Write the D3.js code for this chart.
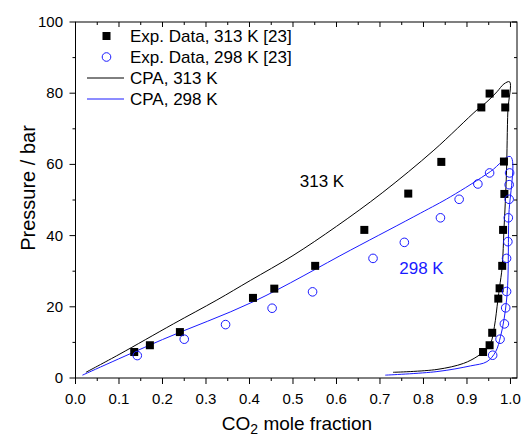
<!DOCTYPE html>
<html><head><meta charset="utf-8">
<script src="https://cdn.jsdelivr.net/npm/d3@7/dist/d3.min.js"></script>
<style>body{margin:0;background:#fff}svg{display:block}text{font-family:"Liberation Sans",Arial,sans-serif}</style>
</head><body><svg id="c" width="523" height="437"></svg>
<script>
// Experimental data, 313 K (filled squares)
const exp313x = [0.135,0.171,0.240,0.408,0.457,0.551,0.664,0.765,0.841,0.933,0.952,0.937,0.952,0.958,0.972,0.975,0.981,0.983,0.986,0.985,0.988,0.988];
const exp313y = [7.3,9.2,12.9,22.5,25.1,31.5,41.6,51.8,60.7,76.0,79.9,7.3,9.2,12.7,22.3,25.2,31.5,41.6,51.7,60.8,76.0,79.9];
// Experimental data, 298 K (open circles)
const exp298x = [0.142,0.250,0.345,0.452,0.545,0.684,0.756,0.839,0.882,0.925,0.952,0.959,0.976,0.986,0.989,0.991,0.991,0.994,0.995,0.997,0.997,0.998];
const exp298y = [6.3,10.9,15.0,19.6,24.2,33.6,38.1,45.0,50.2,54.5,57.6,6.4,10.9,15.2,19.7,24.3,33.6,38.3,45.0,50.2,54.3,57.6];
// CPA model, 313 K (bubble branch then dew branch)
const cpa313x = [0.024,0.100,0.225,0.325,0.402,0.500,0.600,0.705,0.824,0.923,0.946,0.969,0.985,0.998,0.994,0.991,0.988,0.985,0.981,0.975,0.971,0.963,0.954,0.938,0.923,0.892,0.831,0.730];
const cpa313y = [1.6,6.6,15.2,21.9,27.4,34.4,42.6,52.0,64.0,75.3,77.6,80.4,82.6,83.2,75.0,58.4,49.1,41.6,31.3,25.6,21.9,14.4,9.7,7.4,6.0,4.1,2.4,1.6];
// CPA model, 298 K
const cpa298x = [0.016,0.200,0.410,0.632,0.793,0.862,0.954,1.000,0.996,0.994,0.991,0.985,0.977,0.966,0.946,0.908,0.831,0.712];
const cpa298y = [0.8,10.8,21.5,35.9,46.3,50.9,58.0,62.2,45.0,27.5,21.9,16.3,11.6,7.4,4.6,3.4,1.8,0.8];
const xTicks = [0,0.1,0.2,0.3,0.4,0.5,0.6,0.7,0.8,0.9,1.0];
const yTicks = [0,20,40,60,80,100];

const svg = d3.select("#c");
const L=75.5, R=517, T=22, B=378;
const x = d3.scaleLinear().domain([0,1.015]).range([L,R]);
const y = d3.scaleLinear().domain([0,100]).range([B,T]);
const blue = "#1a1aff";

// frame
svg.append("rect").attr("x",L).attr("y",T).attr("width",R-L).attr("height",B-T)
  .attr("fill","none").attr("stroke","#000").attr("stroke-width",1);

const xMinor = d3.range(0.05,1.01,0.1);
const yMinor = d3.range(10,100,20);
function tickSet(g, vals, scale, dir, len, horiz){
  vals.forEach(v=>{
    const p = scale(v);
    if(horiz) g.append("line").attr("x1",p).attr("x2",p).attr("y1",0).attr("y2",dir*len).attr("stroke","#000");
    else g.append("line").attr("y1",p).attr("y2",p).attr("x1",0).attr("x2",dir*len).attr("stroke","#000");
  });
}
const gb = svg.append("g").attr("transform",`translate(0,${B})`);
tickSet(gb,xTicks,x,1,6,true); tickSet(gb,xMinor,x,1,3,true);
const gt = svg.append("g").attr("transform",`translate(0,${T})`);
tickSet(gt,xTicks,x,1,5,true); tickSet(gt,xMinor,x,1,3,true);
const gl = svg.append("g").attr("transform",`translate(${L},0)`);
tickSet(gl,yTicks,y,-1,6,false); tickSet(gl,yMinor,y,-1,3,false);
const gr = svg.append("g").attr("transform",`translate(${R},0)`);
tickSet(gr,yTicks,y,-1,5,false); tickSet(gr,yMinor,y,-1,3,false);

xTicks.forEach(v=>svg.append("text").attr("x",x(v)).attr("y",404).attr("text-anchor","middle")
  .attr("font-size",15).text(d3.format(".1f")(v)));
yTicks.forEach(v=>svg.append("text").attr("x",63).attr("y",y(v)+5).attr("text-anchor","end")
  .attr("font-size",15).text(v));

const xt = svg.append("text").attr("x",297).attr("y",430).attr("text-anchor","middle").attr("font-size",19);
xt.append("tspan").text("CO");
xt.append("tspan").attr("font-size",14).attr("dy",4).text("2");
xt.append("tspan").attr("dy",-4).text(" mole fraction");
svg.append("text").attr("transform","translate(35,188) rotate(-90)").attr("text-anchor","middle")
  .attr("font-size",20).text("Pressure / bar");

const line = d3.line().x(d=>x(d[0])).y(d=>y(d[1])).curve(d3.curveCatmullRom.alpha(0.5));
svg.append("path").attr("d",line(d3.zip(cpa313x,cpa313y))).attr("fill","none").attr("stroke","#000").attr("stroke-width",1);
svg.append("path").attr("d",line(d3.zip(cpa298x,cpa298y))).attr("fill","none").attr("stroke",blue).attr("stroke-width",1);

const s=8;
svg.append("g").selectAll("rect").data(d3.zip(exp313x,exp313y)).join("rect")
  .attr("x",d=>x(d[0])-s/2).attr("y",d=>y(d[1])-s/2).attr("width",s).attr("height",s).attr("fill","#000");
svg.append("g").selectAll("circle").data(d3.zip(exp298x,exp298y)).join("circle")
  .attr("cx",d=>x(d[0])).attr("cy",d=>y(d[1])).attr("r",4.3).attr("fill","none").attr("stroke",blue).attr("stroke-width",1);

// annotations
svg.append("text").attr("x",322).attr("y",187).attr("text-anchor","middle").attr("font-size",17).text("313 K");
svg.append("text").attr("x",421.5).attr("y",274).attr("text-anchor","middle").attr("font-size",17).attr("fill",blue).text("298 K");

// legend
const legend = ["Exp. Data, 313 K [23]","Exp. Data, 298 K [23]","CPA, 313 K","CPA, 298 K"];
const ly=[36,57,78,99];
legend.forEach((t,i)=>svg.append("text").attr("x",130).attr("y",ly[i]+6).attr("font-size",17).text(t));
svg.append("rect").attr("x",106.5-4).attr("y",ly[0]-4).attr("width",8).attr("height",8).attr("fill","#000");
svg.append("circle").attr("cx",106.5).attr("cy",ly[1]).attr("r",4.3).attr("fill","none").attr("stroke",blue);
svg.append("line").attr("x1",87).attr("x2",124).attr("y1",ly[2]).attr("y2",ly[2]).attr("stroke","#000");
svg.append("line").attr("x1",87).attr("x2",124).attr("y1",ly[3]).attr("y2",ly[3]).attr("stroke",blue);
</script></body></html>
